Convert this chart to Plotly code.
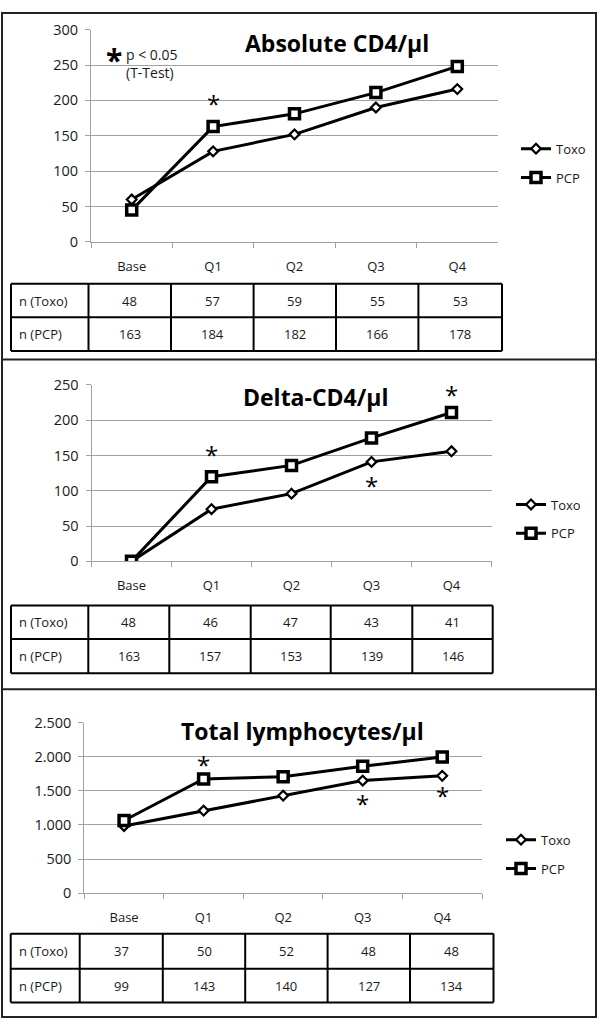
import plotly.graph_objects as go

W, H = 600, 1032

# ---------------- data ----------------
categories = ["Base", "Q1", "Q2", "Q3", "Q4"]
series_names = ["Toxo", "PCP"]
row_labels = ["n (Toxo)", "n (PCP)"]
titles = ["Absolute CD4/µl", "Delta-CD4/µl", "Total lymphocytes/µl"]

abs_toxo = [60, 128, 152, 190, 216]
abs_pcp = [45, 163, 181, 211, 248]
abs_n_toxo = [48, 57, 59, 55, 53]
abs_n_pcp = [163, 184, 182, 166, 178]

delta_toxo = [0, 74, 96, 141, 156]
delta_pcp = [0, 120, 136, 175, 211]
delta_n_toxo = [48, 46, 47, 43, 41]
delta_n_pcp = [163, 157, 153, 139, 146]

lym_toxo = [985, 1210, 1430, 1650, 1720]
lym_pcp = [1065, 1675, 1705, 1860, 1995]
lym_n_toxo = [37, 50, 52, 48, 48]
lym_n_pcp = [99, 143, 140, 127, 134]

# significance markers: (category, value)
abs_sig = [("Q1", 196)]
delta_sig = [("Q1", 151), ("Q3", 108), ("Q4", 237)]
lym_sig = [("Q1", 1886), ("Q3", 1310), ("Q4", 1430)]

# ---------------- helpers ----------------
def px(x):
    return x / W

def py(y):
    return 1 - y / H

FONT = "Open Sans"
GRID = "#a0a0a0"
TXT = "#1a1a1a"

panels = [
    dict(toxo=abs_toxo, pcp=abs_pcp, nt=abs_n_toxo, np_=abs_n_pcp, sig=abs_sig,
         title=titles[0], xdom=(91, 498), ydom=(236.3, 20), yrange=(0, 300), dtick=50,
         tfmt="", title_xy=(337, 34),
         leg=(516, 126),
         cols=[11, 88.5, 171, 253.6, 336, 418.4, 502], rows=[279, 313, 347.5]),
    dict(toxo=delta_toxo, pcp=delta_pcp, nt=delta_n_toxo, np_=delta_n_pcp, sig=delta_sig,
         title=titles[1], xdom=(91.5, 491.5), ydom=(561.7, 382), yrange=(0, 250), dtick=50,
         tfmt="", title_xy=(315, 394),
         leg=(511, 488.5),
         cols=[11, 88.3, 169.3, 250.7, 330.7, 412.3, 492.7], rows=[606.7, 640.7, 675.7]),
    dict(toxo=lym_toxo, pcp=lym_pcp, nt=lym_n_toxo, np_=lym_n_pcp, sig=lym_sig,
         title=titles[2], xdom=(84.3, 482), ydom=(899.7, 726), yrange=(0, 2500), dtick=500,
         tfmt=",", title_xy=(302, 735),
         leg=(501, 830),
         cols=[10.7, 79.7, 162.8, 245.2, 327.6, 410, 493.5], rows=[941, 976.7, 1011]),
]

fig = go.Figure()
shapes = []
annotations = []

for i, p in enumerate(panels):
    k = "" if i == 0 else str(i + 1)
    legname = "legend" + k
    xa, ya = "x" + k, "y" + k

    fig.add_trace(go.Scatter(
        x=categories, y=p["toxo"], name=series_names[0], mode="lines+markers",
        xaxis=xa, yaxis=ya, legend=legname, legendgroup="toxo" + k,
        line=dict(color="black", width=3),
        marker=dict(symbol="diamond", size=7.5, color="white",
                    line=dict(color="black", width=2.2)),
    ))
    fig.add_trace(go.Scatter(
        x=categories, y=p["pcp"], name=series_names[1], mode="lines+markers",
        xaxis=xa, yaxis=ya, legend=legname, legendgroup="pcp" + k,
        line=dict(color="black", width=3),
        marker=dict(symbol="square", size=10, color="white",
                    line=dict(color="black", width=3.5)),
    ))

    fig.update_layout({
        "xaxis" + k: dict(
            domain=[px(p["xdom"][0]), px(p["xdom"][1])], anchor=ya,
            type="category", categoryarray=categories, range=[-0.5, 4.5],
            showgrid=False, showline=True, linecolor=GRID, linewidth=1,
            ticks="outside", tickson="boundaries", ticklen=5, tickcolor=GRID,
            tickfont=dict(family=FONT, size=13, color=TXT),
            ticklabelstandoff=12, fixedrange=True,
        ),
        "yaxis" + k: dict(
            domain=[py(p["ydom"][0]), py(p["ydom"][1])], anchor=xa,
            range=list(p["yrange"]), dtick=p["dtick"], tickformat=p["tfmt"],
            showgrid=True, gridcolor=GRID, gridwidth=1, zeroline=False,
            showline=True, linecolor=GRID, linewidth=1,
            ticks="outside", ticklen=5, tickcolor=GRID,
            tickfont=dict(family=FONT, size=14.5, color=TXT),
            ticklabelstandoff=4, fixedrange=True,
        ),
        legname: dict(
            x=px(p["leg"][0]), y=py(p["leg"][1]), xanchor="left", yanchor="top",
            bgcolor="rgba(0,0,0,0)", borderwidth=0, tracegroupgap=9,
            font=dict(family=FONT, size=13, color=TXT),
            itemwidth=30,
        ),
    })

    # title
    annotations.append(dict(
        text="<b>%s</b>" % p["title"], x=px(p["title_xy"][0]), y=py(p["title_xy"][1]),
        xref="paper", yref="paper", showarrow=False, xanchor="center", yanchor="middle",
        font=dict(family=FONT, size=23, color="black"),
    ))

    # significance asterisks
    for cat, val in p["sig"]:
        annotations.append(dict(
            text="*", x=cat, y=val, xref=xa, yref=ya, showarrow=False,
            xanchor="center", yanchor="middle",
            font=dict(family=FONT, size=24, color="black"),
        ))

    # table
    cols, rows = p["cols"], p["rows"]
    for cx in cols:
        shapes.append(dict(type="line", xref="paper", yref="paper",
                           x0=px(cx), x1=px(cx), y0=py(rows[0]), y1=py(rows[-1]),
                           line=dict(color="black", width=2)))
    for ry in rows:
        shapes.append(dict(type="line", xref="paper", yref="paper",
                           x0=px(cols[0]), x1=px(cols[-1]), y0=py(ry), y1=py(ry),
                           line=dict(color="black", width=2)))
    for r, (lab, vals) in enumerate(zip(row_labels, [p["nt"], p["np_"]])):
        yc = (rows[r] + rows[r + 1]) / 2
        annotations.append(dict(
            text=lab, x=px(cols[0] + 6), y=py(yc), xref="paper", yref="paper",
            showarrow=False, xanchor="left", yanchor="middle",
            font=dict(family=FONT, size=13, color=TXT),
        ))
        for c, v in enumerate(vals):
            xc = (cols[c + 1] + cols[c + 2]) / 2
            annotations.append(dict(
                text=str(v), x=px(xc), y=py(yc), xref="paper", yref="paper",
                showarrow=False, xanchor="center", yanchor="middle",
                font=dict(family=FONT, size=13, color=TXT),
            ))

# p-value note in panel 1
annotations.append(dict(
    text="<b>*</b>", x=px(114), y=py(50), xref="paper", yref="paper", showarrow=False,
    xanchor="center", yanchor="middle", font=dict(family=FONT, size=30, color="black"),
))
annotations.append(dict(
    text="p < 0.05<br>(T-Test)", x=px(124), y=py(55), xref="paper", yref="paper",
    showarrow=False, xanchor="left", yanchor="middle", align="left",
    font=dict(family=FONT, size=14, color=TXT),
))

# panel frames
shapes.append(dict(type="rect", xref="paper", yref="paper",
                   x0=px(2), x1=px(596), y0=py(3), y1=py(1026),
                   line=dict(color="#222", width=2)))
for sy in (356, 692):
    shapes.append(dict(type="line", xref="paper", yref="paper",
                       x0=px(2), x1=px(596), y0=py(sy), y1=py(sy),
                       line=dict(color="#222", width=2)))

fig.update_layout(
    width=W, height=H, margin=dict(l=0, r=0, t=0, b=0),
    paper_bgcolor="white", plot_bgcolor="white",
    separators=",.", showlegend=True,
    shapes=shapes, annotations=annotations,
    font=dict(family=FONT),
)

fig.write_html(
    "out.html",
    config={"displayModeBar": False},
    post_script="document.body.style.margin='0';"
                "document.documentElement.style.overflow='hidden';"
                "document.body.style.overflow='hidden';",
)
